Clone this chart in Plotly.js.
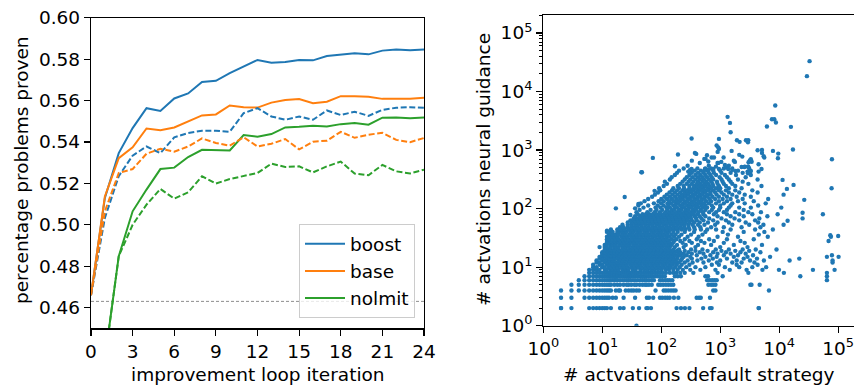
<!DOCTYPE html>
<html><head><meta charset="utf-8">
<script src="https://cdn.plot.ly/plotly-3.0.1.min.js"></script>
<style>html,body{margin:0;padding:0;overflow:hidden;background:#fff}#chart{width:856px;height:386px}</style>
</head><body><div id="chart"></div>
<script>
// ---------- left panel data ----------
const iterations = [0,1,2,3,4,5,6,7,8,9,10,11,12,13,14,15,16,17,18,19,20,21,22,23,24];
const boost       = [0.466,0.513,0.5346,0.5467,0.5563,0.555,0.561,0.5634,0.569,0.5695,0.5732,0.5764,0.5796,0.5783,0.5786,0.5796,0.5794,0.5815,0.582,0.5828,0.5823,0.5841,0.5846,0.5843,0.5847];
const base        = [0.466,0.5137,0.5322,0.5374,0.5465,0.5457,0.547,0.5499,0.5528,0.5533,0.5576,0.5568,0.5566,0.559,0.5602,0.5607,0.5587,0.5594,0.5621,0.5621,0.5618,0.5608,0.5608,0.5608,0.5613];
const nolimit     = [0.40,0.435,0.4848,0.5065,0.517,0.5269,0.5276,0.5327,0.5362,0.5361,0.5359,0.5433,0.5425,0.5438,0.547,0.5473,0.5478,0.5475,0.5486,0.5492,0.5483,0.5517,0.5518,0.5515,0.5518];
const boostAlt    = [0.466,0.5033,0.5235,0.5334,0.5378,0.5346,0.5422,0.5443,0.5454,0.5454,0.5449,0.5539,0.5563,0.5523,0.5507,0.5523,0.5507,0.5552,0.553,0.5546,0.5526,0.5555,0.5565,0.5568,0.5565];
const baseAlt     = [0.466,0.5065,0.525,0.5269,0.5343,0.5367,0.5353,0.5378,0.5417,0.5395,0.5382,0.5423,0.5378,0.5391,0.5414,0.5364,0.5401,0.5406,0.5449,0.542,0.5435,0.5444,0.541,0.5399,0.5419];
const nolimitAlt  = [0.40,0.435,0.4848,0.500,0.5097,0.5173,0.5126,0.5157,0.5234,0.5199,0.5221,0.5237,0.525,0.5295,0.5279,0.5282,0.5253,0.5282,0.5305,0.5247,0.5239,0.5289,0.5258,0.5248,0.5266];
const baseline = 0.463;
const xTicksLeft = [0,3,6,9,12,15,18,21,24];
const yTicksLeft = [0.46,0.48,0.50,0.52,0.54,0.56,0.58,0.60];

// ---------- right panel data (activation counts) ----------
const rowY = [1,2,3,4,5,6,7,8,9,10,11,12,13,14,15,16,17,18,19,20,22,24,26,28,30,33,34,35,36,40,42,44,48,53,58,62,63,68,74,78,80,85,87,95,101,104,113,120,123,134,141,146,158,159,173,188,201,205,217,223,243,254,265,289,309,315,343,374,408,419,445,485,540,600,660];
const rowX = [
 [38],
 [2,2,3,6,7,8,9,10,11,12,14,20,23,33,42,56,59,67,182,216,252,300,513,670,715,4470,4530],
 [2,3,5,6,7,8,9,10,11,12,13,15,17,23,36,57,62,73,95,104,116,127,139,164,195,398,437,468,670],
 [2,3,4,5,6,7,8,9,10,11,12,13,14,17,19,20,25,28,31,34,38,42,80,110,120,132,146,160,175,760,830,6700],
 [3,4,5,6,7,8,9,10,11,12,13,14,16,18,20,23,26,28,31,35,38,43,48,53,57,62,69,89,98,108,120,132,146,160,630,700,760,830,3240,3390,4660],
 [4,5,6,7,8,9,10,11,12,13,14,15,16,17,18,20,22,24,26,28,30,33,36,40,44,48,52,56,62,69,75,95,104,116,127,139,154,600,660,730,800,870,64400],
 [5,6,7,8,9,10,11,12,13,14,15,16,17,18,19,20,21,23,25,27,29,31,34,37,40,44,47,51,55,60,66,72,79,86,95,105,115,170,190,215,560,620,1100,22800,64400],
 [6,7,8,9,10,11,12,13,14,15,16,17,18,19,20,22,24,26,28,30,32,35,38,41,45,50,55,60,65,70,78,86,95,105,120,140,160,180,210,250,350,900,3000,12000,64400],
 [6,7,8,9,11,12,14,15,17,19,22,25,28,33,37,44,51,58,67,76,88,101,118,135,160,190,232,310,460,830,1450,2800,5200,9900,37300,86900],
 [7,8,10,11,13,14,16,18,21,24,27,31,36,41,47,54,62,71,82,95,108,126,145,172,205,265,380,560,1200,2100,3500,6000],
 [7,9,10,12,13,15,17,19,20,23,26,30,34,39,45,52,59,68,78,90,104,119,138,157,183,222,300,720,950,1900,4300],
 [8,9,11,12,14,16,18,21,24,28,32,36,42,48,55,64,73,84,96,112,128,148,170,197,250,340,520,880,1600,2300,3800,80300],
 [8,10,11,13,15,16,19,22,25,29,33,38,44,50,57,66,75,87,100,115,132,152,176,215,280,410,640,1000,1900,3200,5500,15000,80300],
 [9,10,12,13,15,17,20,23,26,30,34,39,45,51,59,68,78,90,104,120,138,160,186,225,330,480,750,1300,2500,4200,21900],
 [9,11,12,14,16,18,21,24,27,31,35,40,47,53,61,70,81,93,107,123,142,163,190,240,310,560,870,1700,2900,7000,64400,101600],
 [10,11,13,14,16,19,22,25,29,33,37,43,49,56,65,74,85,98,113,130,150,175,210,270,400,680,1150,2000,3600,78300],
 [10,12,13,15,17,20,23,26,30,34,39,45,52,60,69,79,91,105,121,140,161,195,240,330,520,900,1500,2700],
 [10,11,13,14,16,18,21,24,27,31,36,41,47,54,62,72,83,95,110,127,146,170,210,290,450,760,1250,2200,4800],
 [11,12,14,16,18,21,24,28,32,37,42,48,56,64,74,85,98,113,130,152,185,250,380,610,1050,1800,3100],
 [11,13,14,16,19,22,25,29,33,38,44,50,58,66,76,88,101,117,135,160,200,320,500,840,1400,2400,4000,9000],
 [9,11,12,14,16,17,19,22,25,28,32,36,41,47,53,61,70,80,92,105,121,140,170,240,380,1000,2900],
 [11,12,14,15,17,20,23,26,29,34,38,44,50,57,66,75,86,99,114,131,150,185,260,420,700,1700,5100],
 [12,13,15,17,19,21,24,27,31,35,40,46,52,60,69,79,90,103,119,137,158,230,330,540,1150,2600],
 [12,14,16,18,20,23,26,30,34,39,45,51,58,67,77,88,101,116,134,165,210,300,470,780,2200,68700],
 [12,13,15,17,19,22,25,28,32,37,42,48,55,63,72,83,95,109,125,150,180,250,400,650,1300,3700],
 [12,14,16,18,21,24,27,31,35,40,46,53,61,70,80,92,105,121,139,165,200,280,430,900,2000,6400,75300],
 [100000],
 [73500],
 [13,15,17,19,22,25,29,33,38,43,49,56,64,74,85,97,111,128,150,175,220,320,500,1350,4500],
 [12,14,15,18,20,23,26,30,34,39,45,52,59,68,78,89,102,117,135,160,190,250,360,560,1100,2500,5600],
 [12,21],
 [14,18,21,24,28,32,37,42,48,55,63,72,83,95,109,125,143,165,190,220,255,300,370,470,600,850,1500,3900,7800],
 [20,23,27,31,35,40,46,53,61,70,80,92,105,121,139,160,184,212,245,290,360,460,700,1150,2300,4800],
 [22,27,31,36,41,47,54,62,71,82,94,108,124,143,164,189,217,250,290,340,420,540,820,1600,3100,5400,11860],
 [27,32,37,42,48,55,63,73,84,96,110,127,146,168,193,222,255,300,360,450,620,900,1400,2700,4400],
 [13870],
 [30,35,40,46,53,61,70,80,92,106,122,140,161,185,213,245,282,330,400,520,760,1250,2100,3900],
 [34,39,45,52,60,69,79,91,104,120,138,158,182,209,240,276,320,390,480,650,1050,1750,4600,24900],
 [36,44,50,58,66,76,87,100,115,132,152,175,201,231,266,310,370,450,560,900,1500,2500,6300],
 [30],
 [40,48,55,63,72,83,95,109,126,145,166,191,220,253,291,340,410,520,780,1300,2100,3500,9400,55000],
 [24900],
 [38,58,77,95,118,140,156,185,206,245,272,320,360,430,510,650,850,1150,1800,3000,4900],
 [43,66,83,104,126,150,167,200,221,262,292,345,390,470,560,720,950,1300,2500],
 [17,36],
 [50,80,97,122,140,170,185,222,245,290,324,380,430,510,600,760,1000,1400,2100,3300,10840],
 [41,60,87,110,132,160,175,210,231,275,306,360,405,480,560,720,1000,1500,4400],
 [41],
 [45,75,100,128,147,180,194,235,257,305,340,400,450,530,640,850,1150,1600,2600,5900],
 [52,90,110,137,165,190,208,250,275,330,363,430,480,580,700,950,1300,2000,3700],
 [26600],
 [60,100,125,152,182,210,231,280,306,365,405,480,540,660,820,1100,1500,2400,6500],
 [24],
 [70,113,140,171,205,235,260,310,344,410,455,540,610,740,950,1300,1900,3300],
 [78,124,155,189,225,260,287,345,380,450,502,600,690,870,1150,1600,2600,11860],
 [88,138,170,210,250,285,320,380,423,500,560,680,820,1050,1400,2100,4300],
 [77],
 [96,152,185,231,275,320,352,420,466,550,630,760,950,1250,1800,3500],
 [13500],
 [92,160,200,244,300,350,390,460,520,620,700,850,1000,1400,2300,77300],
 [110,190,240,300,360,420,490,560,650,760,950,1250,1800,5000],
 [17500],
 [125,210,270,330,400,460,540,620,740,900,1150,1600,3000],
 [115,230,290,350,420,500,580,700,880,1100,1500,2400],
 [11400],
 [140,250,310,380,450,530,640,760,1050,1400,2000,4300],
 [150,270,340,420,500,600,720,980,1300,2700],
 [170,300,380,460,560,680,850,1200,1850,3300],
 [185,330,420,520,640,780,1050,1500,2400],
 [46,47],
 [200,370,470,600,760,1000,2000],
 [240,410,560,700,1150,1600,3100],
 [280,640,1400],
 [450,900],
 [330,1700]
];
const topX = [1333,1462,1500,327,951,1920,2130,2730,2985,72,192,372,392,171,596,537,565,714,784,869,926,951,1140,904,1560,627,1042,926,1775,2100,2365,2625,2985,3240,3410,1200,1283,1370,287,307,327,551,627,522,763,846,951,1600,1820,2300,2560,2910,3310,32700,29500,8570,7530,8250,8790,6190,15800,2950,2950,4300,5100,5100,5440,5580,7830,9640,9510,17100,78300,3300,3150,3020,4470,5010,4470,2950,2950];
const topY = [3690,2913,2018,1574,1552,1472,1380,1472,1472,735,838,895,860,530,816,706,706,745,745,1195,1104,1047,745,931,968,636,628,604,628,828,774,522,522,679,631,557,502,476,429,458,476,476,458,429,476,522,476,458,440,515,515,429,440,33000,18300,5770,3365,3365,2950,2520,2490,1435,1360,993,1006,895,784,745,968,871,724,1020,697,697,653,620,573,476,429,522,402];
const logTicks = [1,10,100,1000,10000,100000];
const logTickText = ['10<sup>0</sup>','10<sup>1</sup>','10<sup>2</sup>','10<sup>3</sup>','10<sup>4</sup>','10<sup>5</sup>'];

// ---------- build ----------
const W = 856, H = 386;
const px = v => v / W, py = v => 1 - v / H;
const blue = '#1f77b4', orange = '#ff7f0e', green = '#2ca02c';
const lw = 2, dashStyle = '6px,2.6px';

const sx = [], sy = [];
rowY.forEach((y, i) => rowX[i].forEach(x => { sx.push(x); sy.push(y); }));
topX.forEach((x, i) => { sx.push(x); sy.push(topY[i]); });

const minorVals = [];
for (let k = 0; k <= 5; k++) for (let m = 2; m <= 9; m++) minorVals.push(m * Math.pow(10, k));

const traces = [
  {x: [iterations[0], iterations[iterations.length-1]], y: [baseline, baseline], mode: 'lines', line: {color: '#808080', width: 0.9, dash: '3px,2px'}, showlegend: false, hoverinfo: 'skip'},
  {x: iterations, y: boost, name: 'boost', mode: 'lines', line: {color: blue, width: lw}},
  {x: iterations, y: base, name: 'base', mode: 'lines', line: {color: orange, width: lw}},
  {x: iterations, y: nolimit, name: 'nolmit', mode: 'lines', line: {color: green, width: lw}},
  {x: iterations, y: boostAlt, mode: 'lines', line: {color: blue, width: lw, dash: dashStyle}, showlegend: false},
  {x: iterations, y: baseAlt, mode: 'lines', line: {color: orange, width: lw, dash: dashStyle}, showlegend: false},
  {x: iterations, y: nolimitAlt, mode: 'lines', line: {color: green, width: lw, dash: dashStyle}, showlegend: false},
  {x: sx, y: sy, xaxis: 'x2', yaxis: 'y2', mode: 'markers', marker: {color: blue, size: 4.4, line: {width: 0}}, showlegend: false}
];

const FS = 18.5;
const axisCommon = {showline: true, linecolor: '#000', linewidth: 1.2, mirror: true, ticks: 'outside', ticklen: 6, tickwidth: 1.2, tickcolor: '#000', showgrid: false, zeroline: false, automargin: false, tickfont: {size: FS, color: '#000'}};

const layout = {
  width: W, height: H, margin: {l: 0, r: 0, t: 0, b: 0},
  paper_bgcolor: '#fff', plot_bgcolor: '#fff',
  font: {family: 'DejaVu Sans, sans-serif', size: FS, color: '#000'},
  xaxis: Object.assign({}, axisCommon, {domain: [px(91), px(424)], range: [0, 24], tickmode: 'array', tickvals: xTicksLeft, anchor: 'y'}),
  yaxis: Object.assign({}, axisCommon, {domain: [py(328.3), py(17.7)], range: [0.45, 0.60], tickmode: 'array', tickvals: yTicksLeft, tickformat: '.2f', anchor: 'x'}),
  xaxis2: Object.assign({}, axisCommon, {domain: [px(543.3), px(855)], type: 'log', range: [0, 5.285], tickmode: 'array', tickvals: logTicks, ticktext: logTickText, anchor: 'y2'}),
  yaxis2: Object.assign({}, axisCommon, {domain: [py(325.7), py(15)], type: 'log', range: [0, 5.307], tickmode: 'array', tickvals: logTicks, ticktext: logTickText, anchor: 'x2',
    minor: {tickmode: 'array', tickvals: minorVals, ticks: 'outside', ticklen: 3.5, tickwidth: 1, tickcolor: '#000', showgrid: false}}),
  legend: {x: px(415), xanchor: 'right', y: py(318.3), yanchor: 'bottom', bgcolor: 'rgba(255,255,255,0.8)', bordercolor: '#cccccc', borderwidth: 1, font: {size: FS}, itemwidth: 40},
  showlegend: true,
  annotations: [
    {text: 'improvement loop iteration', xref: 'paper', yref: 'paper', x: px(257.5), y: py(374), xanchor: 'center', yanchor: 'middle', showarrow: false, font: {size: FS}},
    {text: 'percentage problems proven', xref: 'paper', yref: 'paper', x: px(21), y: py(170), xanchor: 'center', yanchor: 'middle', textangle: -90, showarrow: false, font: {size: FS}},
    {text: '# actvations default strategy', xref: 'paper', yref: 'paper', x: px(699), y: py(374), xanchor: 'center', yanchor: 'middle', showarrow: false, font: {size: FS}},
    {text: '# actvations neural guidance', xref: 'paper', yref: 'paper', x: px(483), y: py(170), xanchor: 'center', yanchor: 'middle', textangle: -90, showarrow: false, font: {size: FS}}
  ]
};

Plotly.newPlot('chart', traces, layout, {staticPlot: true, displayModeBar: false});
</script></body></html>
